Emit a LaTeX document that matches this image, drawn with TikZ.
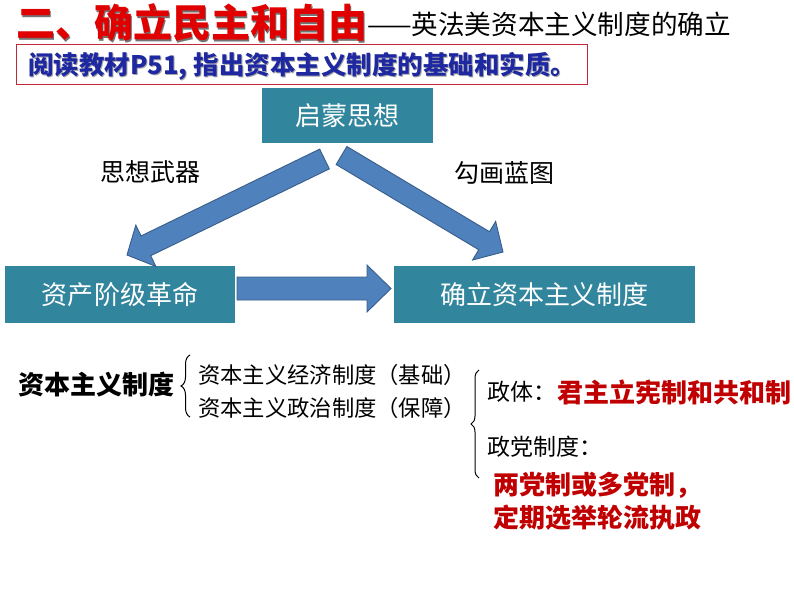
\documentclass[tikz,border=0pt]{standalone}
\usepackage{fontspec}
\setmainfont{Noto Sans CJK SC}
\usetikzlibrary{calc,decorations.pathreplacing}
\definecolor{tealbox}{HTML}{31859C}
\definecolor{arrfill}{HTML}{4F81BD}
\definecolor{arrdraw}{HTML}{385D8A}
\definecolor{redtxt}{HTML}{C00000}
\definecolor{titlered}{HTML}{E00000}
\definecolor{bluetxt}{RGB}{30,40,160}
\definecolor{boxred}{HTML}{C0283A}
\newcommand\fs[1]{\fontsize{#1bp}{#1bp}\selectfont}
\newcommand\blockarrow[5]{%
  \coordinate (#1-#2-b) at ($(#2)!#5!(#1)$);
  \filldraw[blockarr] ($(#1)!#3!90:(#2)$) -- ($(#1-#2-b)!#3!90:(#2)$) -- ($(#1-#2-b)!#4!90:(#2)$) -- (#2) -- ($(#1-#2-b)!#4!-90:(#2)$) -- ($(#1-#2-b)!#3!-90:(#2)$) -- ($(#1)!#3!-90:(#2)$) -- cycle;}
\tikzset{
  tbox/.style={fill=tealbox, text=white, font=\fs{26}, inner sep=0pt},
  blockarr/.style={fill=arrfill, draw=arrdraw, line width=0.9bp, line join=miter},
  txt/.style={inner sep=0pt, anchor=west},
  bracedec/.style={decorate, decoration={brace, amplitude=#1}, line width=1bp},
}
\begin{document}
\begin{tikzpicture}[x=1bp, y=-1bp]
\useasboundingbox (0,0) rectangle (794,596);
% title
\node[txt, text=black!55, font=\bfseries\fs{39}] at (17.5,24.5) {二、确立民主和自由};
\node[txt, text=titlered, font=\bfseries\fs{39}] (t1) at (16,23) {二、确立民主和自由};
\node[txt, font=\fs{26.6}] (t2) at (367,24) {——英法美资本主义制度的确立};
% instruction box
\draw[boxred, line width=1bp] (16,45) rectangle (587,85);
\node[txt, text=black!35, font=\bfseries\fs{25.5}] at (29,67) {阅读教材P51, 指出资本主义制度的基础和实质。};
\node[txt, text=bluetxt, font=\bfseries\fs{25.5}] (ins) at (28,66) {阅读教材P51, 指出资本主义制度的基础和实质。};
% boxes
\node[tbox, minimum width=171bp, minimum height=55bp] (qm) at (347.5,115.5) {启蒙思想};
\node[tbox, minimum width=230bp, minimum height=57bp] (zc) at (120,294.5) {资产阶级革命};
\node[tbox, minimum width=301bp, minimum height=57bp] (ql) at (544.5,294.5) {确立资本主义制度};
% labels
\node[inner sep=0pt, font=\fs{25}] (l1) at (150,172.5) {思想武器};
\node[inner sep=0pt, font=\fs{25}] (l2) at (504,173) {勾画蓝图};
% arrows
\coordinate (aL) at (324.5,159);
\coordinate (bL) at (127,255);
\coordinate (aR) at (341.5,155.5);
\coordinate (bR) at (503,252);
\coordinate (aH) at (237,288.5);
\coordinate (bH) at (391,288.5);
\blockarrow{aL}{bL}{11bp}{23bp}{21bp}
\blockarrow{aR}{bR}{10.5bp}{22.5bp}{22bp}
\blockarrow{aH}{bH}{11.5bp}{23.5bp}{24bp}
% bottom part
\node[txt, font=\bfseries\fs{26}] (zb) at (18,385) {资本主义制度};
\coordinate (b1s) at (190,417);
\coordinate (b1e) at (190,355);
\draw[bracedec=9bp] (b1s) -- (b1e);
\node[txt, font=\fs{22.3}] (jj) at (198,375) {资本主义经济制度（基础）};
\node[txt, font=\fs{22.3}] (zz) at (198,408) {资本主义政治制度（保障）};
\coordinate (b2s) at (479,478);
\coordinate (b2e) at (479,370);
\draw[bracedec=8bp] (b2s) -- (b2e);
\node[txt, font=\fs{23}] (zt) at (487,392) {政体：};
\node[txt, text=redtxt, font=\bfseries\fs{26}] (zt2) at (557,392) {君主立宪制和共和制};
\node[txt, font=\fs{23}] (zd) at (487,447) {政党制度：};
\node[txt, text=redtxt, font=\bfseries\fs{26}] (zd1) at (493,485) {两党制或多党制，};
\node[txt, text=redtxt, font=\bfseries\fs{26}] (zd2) at (493,518) {定期选举轮流执政};
\end{tikzpicture}
\end{document}
